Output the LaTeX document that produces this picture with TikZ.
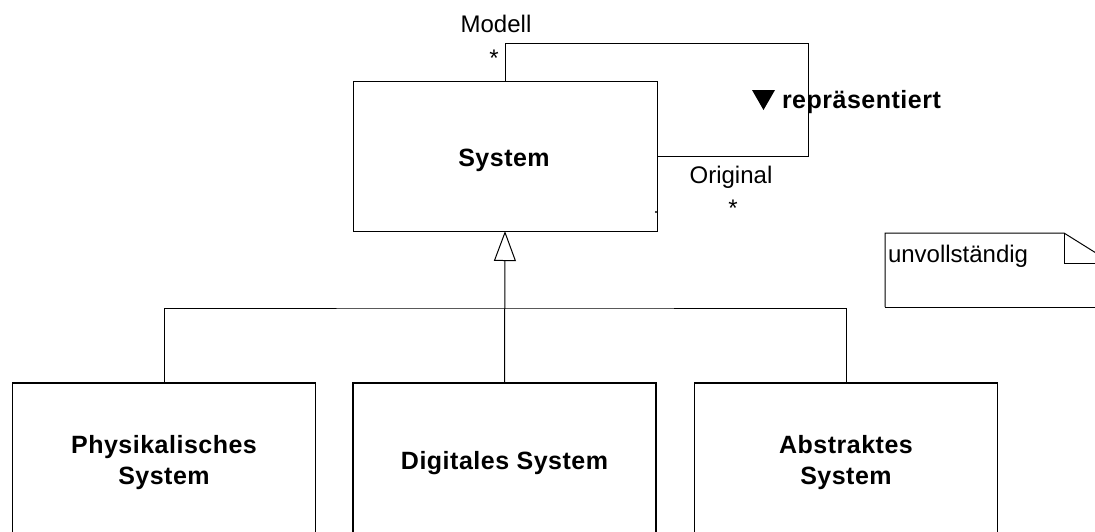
\documentclass[tikz,border=0pt]{standalone}
\usepackage{fontspec}
\setmainfont{Liberation Sans}
\usetikzlibrary{arrows.meta}
\begin{document}
\begin{tikzpicture}[x=1pt,y=-1pt,
  every node/.style={inner sep=0pt, outer sep=0pt},
  txt/.style={font=\fontsize{24}{30}\selectfont},
  btxt/.style={font=\fontsize{25}{30}\selectfont\bfseries\addfontfeature{LetterSpace=2}},
  cls/.style={draw, line width=1pt, minimum width=303pt, minimum height=150pt, align=center,
              font=\fontsize{25}{31}\selectfont\bfseries\addfontfeature{LetterSpace=2}},
  sub/.style={cls, minimum height=160pt, line width=1.2pt},
  ln/.style={line width=1pt}]
\useasboundingbox (0,0) rectangle (1095,531);
% classes
\node[cls, minimum width=304pt] (sys) at (505,156) {};
\node[btxt, anchor=base] (systxt) at (504,166) {System};
\node[sub] (phys) at (164,463) {Physikalisches\\System};
\node[sub] (dig) at (504.5,463) {Digitales System};
\node[sub] (abs) at (846,463) {Abstraktes\\System};
% generalization
\coordinate (bus) at (505,308);
\draw[ln, -{Triangle[open, length=30pt, width=22pt, line width=1pt]}] (dig.north) -- (sys.south);
\draw[ln] (phys.north) |- (bus) -| (abs.north);
% self association
\coordinate (topc) at (808,43);
\draw[ln] (sys.north) |- (topc) |- (sys.east);
\fill (656,212) circle (1.2pt);
% labels
\node[txt, anchor=base] (modell) at (496,32) {Modell};
\node[txt, anchor=base] (mstar) at (494,66) {*};
\node[txt, anchor=base] (orig) at (731,183) {Original};
\node[txt, anchor=base] (ostar) at (733,216) {*};
\node[btxt, anchor=base west] (rep) at (782,108) {repräsentiert};
\fill (752,90) -- (775,90) -- (763.5,110) -- cycle;
% note
\draw[ln] (885,307) -- (885,233) -- (1064,233) -- (1112,263);
\draw[ln] (1064,233) -- (1064,263) -- (1100,263);
\draw[ln] (885,307) -- (1100,307);
\node[txt, anchor=base west] (note) at (888,262) {unvollständig};
\end{tikzpicture}
\end{document}
